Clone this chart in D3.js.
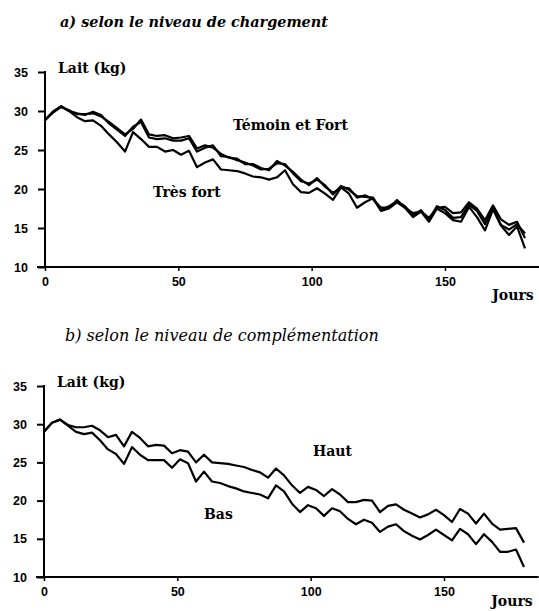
<!DOCTYPE html>
<html>
<head>
<meta charset="utf-8">
<script src="https://cdn.jsdelivr.net/npm/d3@7"></script>
<style>
  html, body { margin: 0; padding: 0; background: #fff; }
  svg { display: block; }
</style>
</head>
<body>
<svg id="chart" width="539" height="611"></svg>
<script>
// ---------- DATA ----------
const days = d3.range(0, 181, 3); // 0,3,...,180
const yTicks = [10, 15, 20, 25, 30, 35];
const xTicks = [0, 50, 100, 150];

// Panel a) selon le niveau de chargement
const temoin = [28.8,29.9,30.6,30.0,29.7,29.5,29.9,29.5,28.4,27.6,26.8,28.0,28.6,26.6,26.4,26.5,26.2,26.2,26.5,24.8,
  25.3,25.6,24.2,24.1,23.7,23.4,23.0,22.5,22.6,23.3,23.2,22.0,21.0,20.7,21.2,20.5,19.3,20.4,19.9,19.1,
  19.0,18.9,17.3,17.8,18.4,17.8,16.6,17.3,16.0,17.8,17.3,16.3,16.4,18.0,17.2,15.5,17.6,15.4,14.8,15.5,14.3];
const fort = [28.9,29.8,30.5,30.1,29.6,29.6,29.7,29.3,28.6,27.8,27.0,27.7,28.9,27.0,26.8,26.9,26.5,26.6,26.8,25.2,
  25.6,25.3,24.5,24.0,23.9,23.2,23.2,22.7,22.4,23.6,23.0,22.2,21.2,20.5,21.4,20.3,19.5,20.2,20.1,18.9,
  19.2,18.7,17.6,17.6,18.6,17.6,16.9,17.1,16.3,17.6,17.7,16.9,17.0,18.3,17.5,16.0,17.9,16.1,15.4,15.8,13.7];
const tresFort = [28.8,29.9,30.6,30.0,29.2,28.7,28.8,28.1,27.0,26.0,24.8,27.3,26.4,25.4,25.4,24.8,25.0,24.4,24.9,22.8,
  23.4,23.8,22.5,22.4,22.3,22.0,21.6,21.5,21.2,21.5,22.4,20.6,19.6,19.5,20.1,19.4,18.6,20.2,19.4,17.6,
  18.3,18.8,17.2,17.5,18.3,17.6,16.4,17.1,15.8,17.5,16.9,16.0,15.8,17.7,16.4,14.7,17.4,15.3,14.1,15.2,12.4];

// Panel b) selon le niveau de complémentation
const haut = [29.0,30.2,30.6,29.9,29.6,29.6,29.8,29.2,28.3,28.6,27.1,29.0,28.2,27.1,27.3,27.2,26.2,26.6,26.4,25.0,
  26.0,25.0,24.9,24.8,24.6,24.4,24.0,23.7,23.0,24.2,23.3,22.0,21.0,21.8,21.4,20.6,21.5,20.8,19.8,19.8,
  20.1,20.0,18.5,19.3,19.5,18.8,18.3,17.8,18.2,18.8,18.1,17.2,18.9,18.3,17.0,18.3,17.0,16.2,16.3,16.4,14.5];
const bas = [29.0,30.2,30.6,29.8,29.0,28.7,28.9,27.9,26.7,26.1,24.8,27.0,26.0,25.3,25.3,25.3,24.3,25.4,24.9,22.5,
  23.8,22.5,22.3,21.9,21.6,21.2,21.0,20.8,20.3,22.0,21.2,19.6,18.5,19.4,19.0,18.0,19.0,18.6,17.6,16.9,
  17.5,17.1,15.9,16.6,16.9,16.0,15.4,14.9,15.5,16.2,15.5,14.8,16.3,15.6,14.3,15.6,14.6,13.3,13.3,13.6,11.3];

// ---------- DRAWING ----------
const svg = d3.select("#chart");
const serif = "'DejaVu Serif', 'Liberation Serif', serif";
const sans = "'Liberation Sans', 'DejaVu Sans', sans-serif";

function panel(cfg) {
  const x = d3.scaleLinear().domain([0, 150]).range([cfg.x0, cfg.x0 + 400]);
  const y = d3.scaleLinear().domain([10, 35]).range([cfg.yBottom, cfg.yTop]);
  const g = svg.append("g");

  // title
  g.append("text")
    .attr("x", cfg.titleX).attr("y", cfg.titleY)
    .attr("font-family", serif).attr("font-style", "italic")
    .attr("font-weight", cfg.titleBold ? "bold" : "normal")
    .attr("font-size", cfg.titleSize).text(cfg.title);

  // y axis
  const yAxis = d3.axisLeft(y).tickValues(yTicks).tickSize(7).tickPadding(10)
    .tickFormat(d3.format("d"));
  const ya = g.append("g").attr("transform", `translate(${cfg.x0},0)`).call(yAxis);
  ya.select(".domain").remove();
  ya.append("line").attr("x1", 0).attr("x2", 0)
    .attr("y1", y(35) - 1).attr("y2", y(10) + 1)
    .attr("stroke", "#000").attr("stroke-width", 2);
  ya.selectAll(".tick line").attr("stroke", "#000").attr("stroke-width", 2);
  ya.selectAll(".tick text").attr("fill", "#000").attr("font-family", sans)
    .attr("font-weight", "bold").attr("font-size", 12.5);

  // x axis
  const xAxis = d3.axisBottom(x).tickValues(xTicks).tickSize(4).tickPadding(6)
    .tickFormat(d3.format("d"));
  const xa = g.append("g").attr("transform", `translate(0,${cfg.yBottom})`).call(xAxis);
  xa.select(".domain").remove();
  xa.append("line").attr("x1", cfg.x0 - 8).attr("x2", x(185.5))
    .attr("y1", 0).attr("y2", 0).attr("stroke", "#000").attr("stroke-width", 2);
  xa.selectAll(".tick line").attr("stroke", "#000").attr("stroke-width", 1.5);
  xa.selectAll(".tick text").attr("fill", "#000").attr("font-family", sans)
    .attr("font-weight", "bold").attr("font-size", 12.5);

  // axis labels
  g.append("text").attr("x", cfg.x0 + 13).attr("y", y(35) + 1)
    .attr("font-family", serif).attr("font-weight", "bold").attr("font-size", 14)
    .text("Lait (kg)");
  g.append("text").attr("x", x(185.5) - 6).attr("y", cfg.yBottom + cfg.joursDy)
    .attr("text-anchor", "end")
    .attr("font-family", serif).attr("font-weight", "bold").attr("font-size", 14)
    .text("Jours");

  // lines
  const line = d3.line().x((d, i) => x(days[i])).y(d => y(d)).curve(d3.curveLinear);
  cfg.series.forEach(s => {
    g.append("path").datum(s).attr("d", line)
      .attr("fill", "none").attr("stroke", "#000").attr("stroke-width", 2.2)
      .attr("stroke-linejoin", "round");
  });

  // series labels
  cfg.labels.forEach(l => {
    g.append("text").attr("x", l.x).attr("y", l.y)
      .attr("font-family", serif).attr("font-weight", "bold").attr("font-size", 14)
      .text(l.text);
  });
}

panel({
  x0: 45, yTop: 72, yBottom: 267,
  title: "a) selon le niveau de chargement", titleX: 60, titleY: 27, titleBold: true, titleSize: 14.4,
  joursDy: 33,
  series: [temoin, fort, tresFort],
  labels: [{text: "Témoin et Fort", x: 233, y: 130}, {text: "Très fort", x: 153, y: 197}]
});

panel({
  x0: 44, yTop: 386, yBottom: 577,
  title: "b) selon le niveau de complémentation", titleX: 65, titleY: 341, titleBold: false, titleSize: 16,
  joursDy: 29,
  series: [haut, bas],
  labels: [{text: "Haut", x: 313, y: 456}, {text: "Bas", x: 204, y: 519}]
});
</script>
</body>
</html>
